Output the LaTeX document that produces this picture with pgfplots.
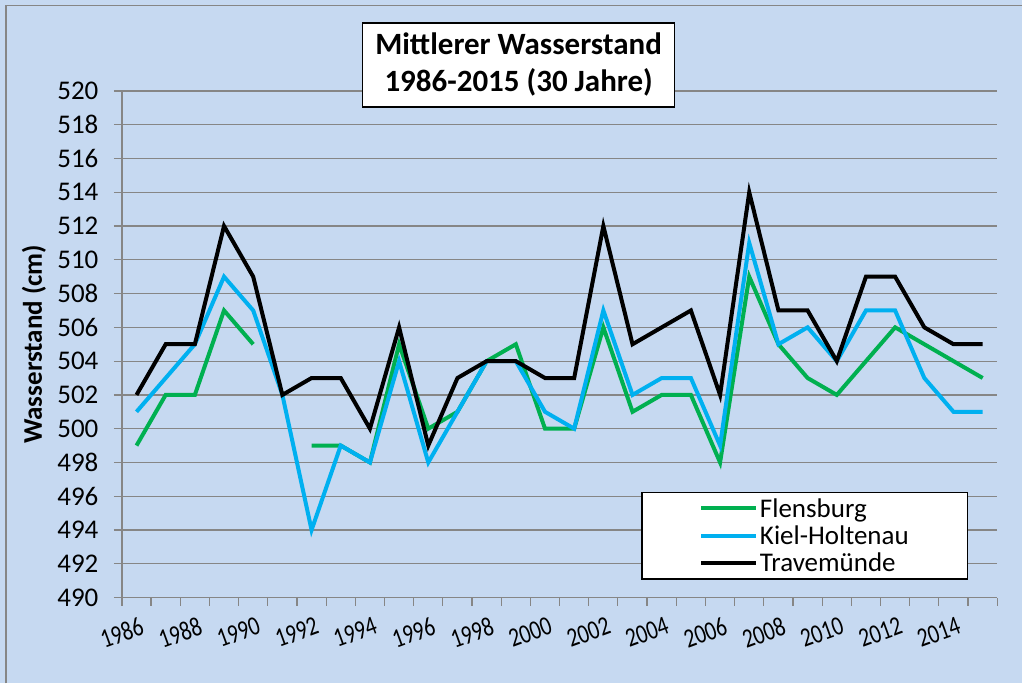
\documentclass[border=0pt]{standalone}
\usepackage{graphicx}
\usepackage{pgfplots}
\pgfplotsset{compat=1.18}
\usepackage{fontspec}
\setmainfont{Carlito}
\definecolor{bg}{HTML}{C6D9F1}
\definecolor{gridgray}{HTML}{868686}
\definecolor{fgreen}{HTML}{00B050}
\definecolor{kblue}{HTML}{00B0F0}
\begin{document}
\begin{tikzpicture}[x=1pt,y=1pt]
\fill[bg] (-122,-86) rectangle (901,598);
\draw[gridgray, line width=1.5pt] (-116,-86) -- (-116,592.5) -- (901,592.5);
\begin{axis}[at={(0,0)}, anchor=south west, scale only axis,
  width=876pt, height=507pt,
  xmin=1985.5, xmax=2015.5, ymin=490, ymax=520,
  ytick={490,492,...,520},
  xtick={1986,1988,...,2014},
  minor xtick={1985.5,1986.5,...,2015.5},
  every major x tick/.append style={draw=none},
  ymajorgrids, grid style={gridgray, line width=1.2pt},
  axis x line*=bottom, axis y line*=left,
  axis line style={gridgray, line width=1.2pt, -},
  tick align=outside, major tick length=8pt, minor tick length=8pt,
  tick style={gridgray, line width=1.2pt},
  /pgf/number format/.cd, 1000 sep={}, assume math mode=true, /pgfplots/.cd,
  yticklabel style={font=\fontsize{27}{31}\selectfont, xshift=-12pt},
  xticklabel={\scalebox{0.8}[1]{\pgfmathprintnumber{\tick}}},
  xticklabel style={font=\fontsize{27}{31}\selectfont, rotate=20, anchor=north east, yshift=-10pt, inner sep=1pt},
  ylabel={Wasserstand (cm)},
  every axis y label/.style={at={(rel axis cs:0,0.5)}, xshift=-88pt, rotate=90, anchor=center, font=\fontsize{27}{31}\selectfont\bfseries},
  unbounded coords=jump,
  legend cell align=left,
  legend image code/.code={\draw[#1, line width=4pt] (0pt,0pt) -- (55pt,0pt);},
  legend style={at={(0.9669,0.0355)}, anchor=south east, draw=black, line width=1.2pt,
    font=\fontsize{27}{31}\selectfont, inner xsep=57pt, inner ysep=4pt, row sep=3pt},
]
\addplot[fgreen, line width=4pt] coordinates {
(1986,499)(1987,502)(1988,502)(1989,507)(1990,505)(1991,nan)(1992,499)(1993,499)(1994,498)(1995,505)
(1996,500)(1997,501)(1998,504)(1999,505)(2000,500)(2001,500)(2002,506)(2003,501)(2004,502)(2005,502)
(2006,498)(2007,509)(2008,505)(2009,503)(2010,502)(2011,504)(2012,506)(2013,505)(2014,504)(2015,503)};
\addlegendentry{Flensburg}
\addplot[kblue, line width=4pt] coordinates {
(1986,501)(1987,503)(1988,505)(1989,509)(1990,507)(1991,502)(1992,494)(1993,499)(1994,498)(1995,504)
(1996,498)(1997,501)(1998,504)(1999,504)(2000,501)(2001,500)(2002,507)(2003,502)(2004,503)(2005,503)
(2006,499)(2007,511)(2008,505)(2009,506)(2010,504)(2011,507)(2012,507)(2013,503)(2014,501)(2015,501)};
\addlegendentry{Kiel-Holtenau}
\addplot[black, line width=4pt] coordinates {
(1986,502)(1987,505)(1988,505)(1989,512)(1990,509)(1991,502)(1992,503)(1993,503)(1994,500)(1995,506)
(1996,499)(1997,503)(1998,504)(1999,504)(2000,503)(2001,503)(2002,512)(2003,505)(2004,506)(2005,507)
(2006,502)(2007,514)(2008,507)(2009,507)(2010,504)(2011,509)(2012,509)(2013,506)(2014,505)(2015,505)};
\addlegendentry{Travemünde}
\end{axis}
\node[draw=black, fill=white, line width=1.5pt, minimum width=312pt, minimum height=84pt,
  align=center, font=\fontsize{31}{37}\selectfont\bfseries] at (397,533)
  {Mittlerer Wasserstand\\1986-2015 (30 Jahre)};
\end{tikzpicture}
\end{document}
